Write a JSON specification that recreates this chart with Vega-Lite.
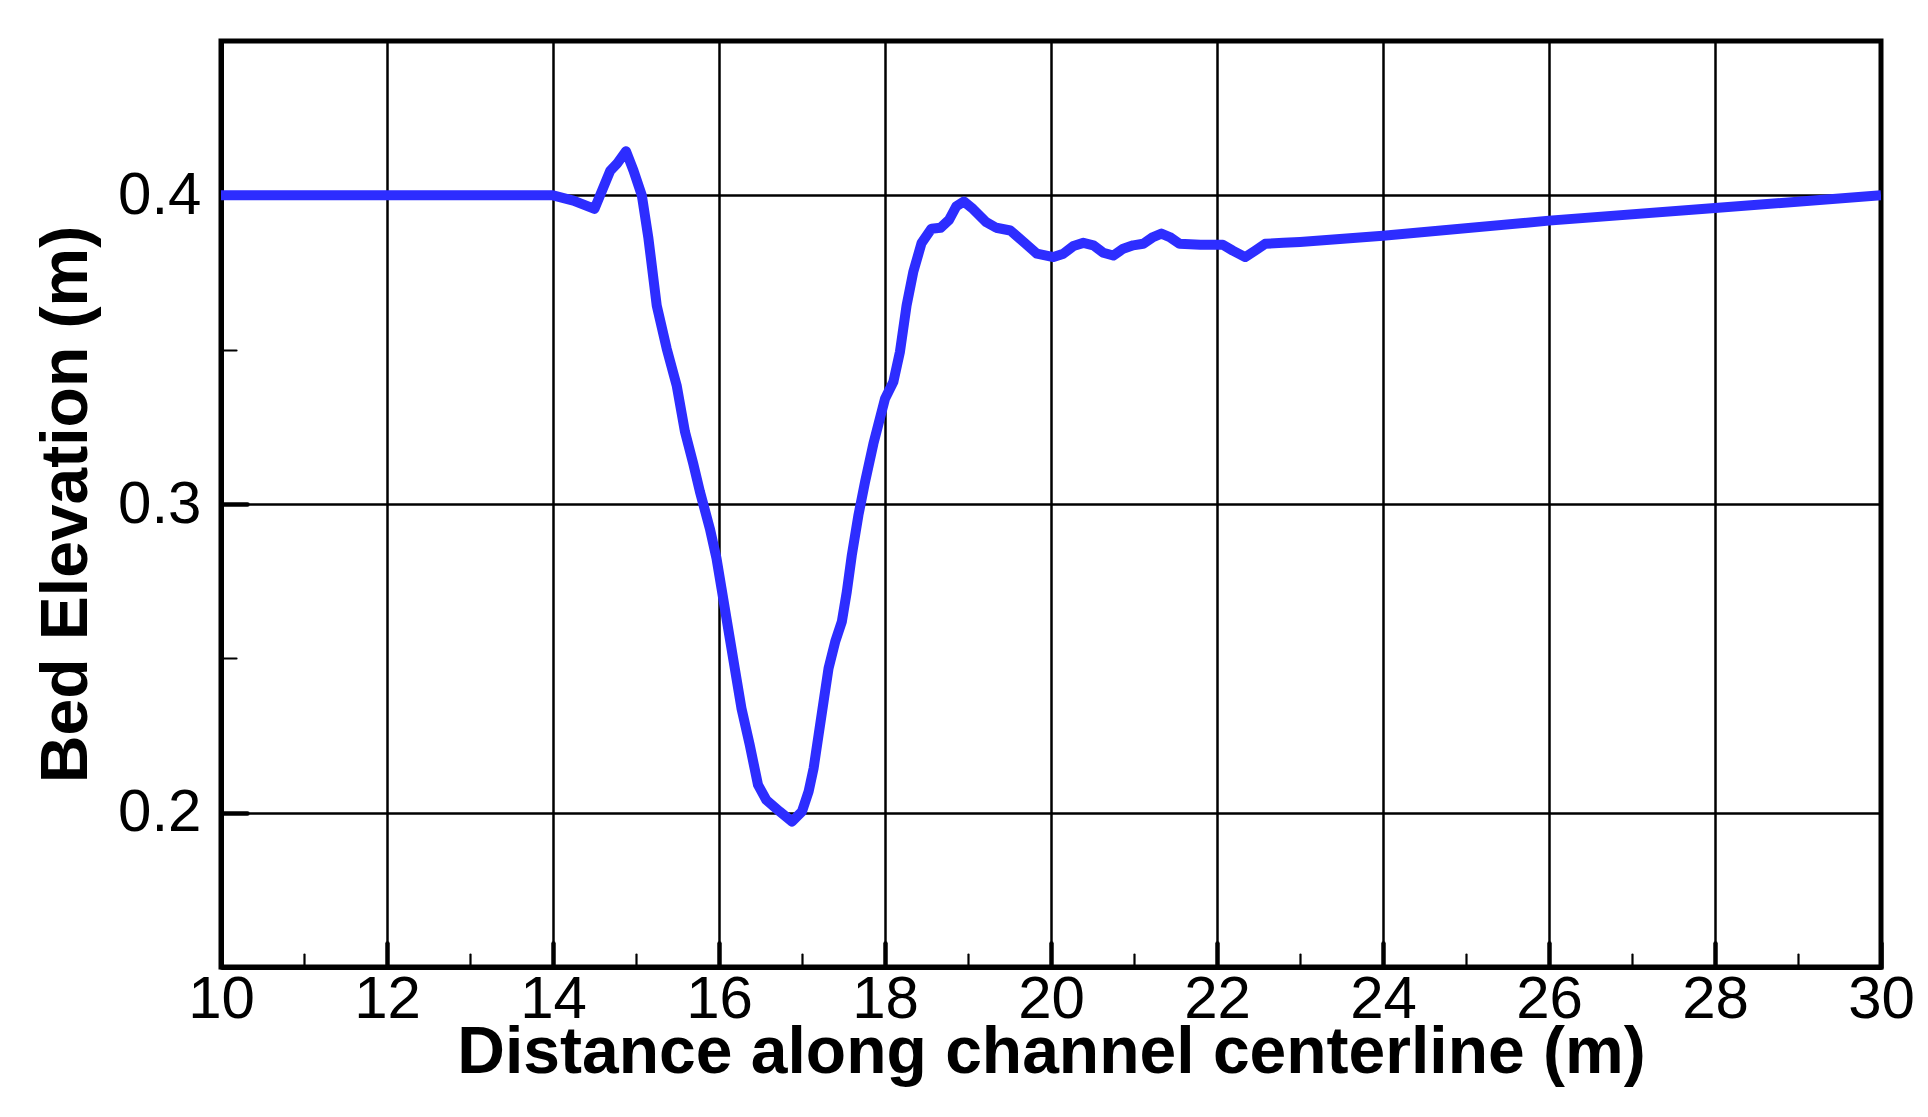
{
  "$schema": "https://vega.github.io/schema/vega-lite/v6.json",
  "width": 1660,
  "height": 926,
  "autosize": "none",
  "padding": {"left": 221, "top": 41, "right": 47, "bottom": 150},
  "background": "white",
  "config": {
    "view": {"stroke": "black", "strokeWidth": 5},
    "axis": {
      "domainColor": "black",
      "domainWidth": 5,
      "tickColor": "black",
      "tickCap": "round",
      "grid": true,
      "gridColor": "black",
      "gridWidth": 2.5,
      "labelFont": "Liberation Sans",
      "labelFontSize": 60,
      "labelColor": "black",
      "labelOverlap": false,
      "labelFlush": false,
      "titleFont": "Liberation Sans",
      "titleFontSize": 66,
      "titleFontWeight": "bold",
      "titleColor": "black"
    }
  },
  "data": {
    "values": [
      {"x": 10, "y": 0.4},
      {"x": 14.0, "y": 0.4},
      {"x": 14.245, "y": 0.3983},
      {"x": 14.5, "y": 0.3956},
      {"x": 14.69, "y": 0.408},
      {"x": 14.77, "y": 0.4102},
      {"x": 14.88, "y": 0.4143},
      {"x": 14.97, "y": 0.408},
      {"x": 15.07, "y": 0.4},
      {"x": 15.15, "y": 0.386},
      {"x": 15.25, "y": 0.3643},
      {"x": 15.37, "y": 0.3503},
      {"x": 15.49, "y": 0.3384},
      {"x": 15.59, "y": 0.3234},
      {"x": 15.69, "y": 0.313},
      {"x": 15.77, "y": 0.304},
      {"x": 15.89, "y": 0.292},
      {"x": 15.97, "y": 0.2824},
      {"x": 16.03, "y": 0.2727},
      {"x": 16.11, "y": 0.2597},
      {"x": 16.19, "y": 0.2468},
      {"x": 16.27, "y": 0.2339},
      {"x": 16.37, "y": 0.222},
      {"x": 16.47, "y": 0.209},
      {"x": 16.57, "y": 0.2041},
      {"x": 16.73, "y": 0.2004},
      {"x": 16.88, "y": 0.1971},
      {"x": 17.0, "y": 0.2004},
      {"x": 17.08, "y": 0.2069},
      {"x": 17.14, "y": 0.2144},
      {"x": 17.2, "y": 0.2252},
      {"x": 17.26, "y": 0.236},
      {"x": 17.32, "y": 0.2468},
      {"x": 17.4, "y": 0.2554},
      {"x": 17.48, "y": 0.2619},
      {"x": 17.54, "y": 0.2716},
      {"x": 17.6, "y": 0.2834},
      {"x": 17.68, "y": 0.2964},
      {"x": 17.76, "y": 0.3072},
      {"x": 17.86, "y": 0.3195},
      {"x": 18.0, "y": 0.3341},
      {"x": 18.1, "y": 0.3395},
      {"x": 18.18, "y": 0.3493},
      {"x": 18.26, "y": 0.3643},
      {"x": 18.34, "y": 0.3751},
      {"x": 18.44, "y": 0.3845},
      {"x": 18.56, "y": 0.3892},
      {"x": 18.67, "y": 0.3895},
      {"x": 18.77, "y": 0.392},
      {"x": 18.86, "y": 0.3965},
      {"x": 18.95, "y": 0.398},
      {"x": 19.06, "y": 0.3956},
      {"x": 19.22, "y": 0.3913},
      {"x": 19.34, "y": 0.3895},
      {"x": 19.51, "y": 0.3886},
      {"x": 19.67, "y": 0.3849},
      {"x": 19.83, "y": 0.3811},
      {"x": 20.03, "y": 0.38},
      {"x": 20.15, "y": 0.3811},
      {"x": 20.27, "y": 0.3836},
      {"x": 20.39, "y": 0.3846},
      {"x": 20.51, "y": 0.3838},
      {"x": 20.63, "y": 0.3814},
      {"x": 20.75, "y": 0.3805},
      {"x": 20.87, "y": 0.3827},
      {"x": 20.99, "y": 0.3838},
      {"x": 21.11, "y": 0.3843},
      {"x": 21.23, "y": 0.3865},
      {"x": 21.33, "y": 0.3876},
      {"x": 21.43, "y": 0.3865},
      {"x": 21.55, "y": 0.3843},
      {"x": 21.8, "y": 0.384},
      {"x": 22.07, "y": 0.384},
      {"x": 22.19, "y": 0.3821},
      {"x": 22.34, "y": 0.38},
      {"x": 22.46, "y": 0.3821},
      {"x": 22.58, "y": 0.3843},
      {"x": 22.8, "y": 0.3846},
      {"x": 23.0, "y": 0.3849},
      {"x": 24.0, "y": 0.3869},
      {"x": 26.0, "y": 0.3918},
      {"x": 28.0, "y": 0.3959},
      {"x": 30.0, "y": 0.4}
    ]
  },
  "mark": {"type": "line", "color": "#2d2dff", "strokeWidth": 10, "strokeJoin": "round", "strokeCap": "butt", "clip": true},
  "encoding": {
    "x": {
      "field": "x",
      "type": "quantitative",
      "scale": {"domain": [10, 30], "nice": false, "zero": false},
      "axis": {
        "title": "Distance along channel centerline (m)",
        "values": [10, 11, 12, 13, 14, 15, 16, 17, 18, 19, 20, 21, 22, 23, 24, 25, 26, 27, 28, 29, 30],
        "labelExpr": "datum.value % 2 === 0 ? datum.label : ''",
        "tickSize": {"condition": {"test": "datum.value % 2 === 0", "value": -24}, "value": -13},
        "tickWidth": {"condition": {"test": "datum.value % 2 === 0", "value": 4.5}, "value": 2.2},
        "gridOpacity": {"condition": {"test": "datum.value % 2 === 0", "value": 1}, "value": 0},
        "labelPadding": 27,
        "titlePadding": -20
      }
    },
    "y": {
      "field": "y",
      "type": "quantitative",
      "scale": {"domain": [0.15, 0.45], "nice": false, "zero": false},
      "axis": {
        "title": "Bed Elevation (m)",
        "values": [0.2, 0.25, 0.3, 0.35, 0.4],
        "format": ".1f",
        "labelExpr": "abs(datum.value * 10 - round(datum.value * 10)) < 0.001 ? datum.label : ''",
        "tickSize": {"condition": {"test": "abs(datum.value * 10 - round(datum.value * 10)) < 0.001", "value": -26}, "value": -15},
        "tickWidth": {"condition": {"test": "abs(datum.value * 10 - round(datum.value * 10)) < 0.001", "value": 4.5}, "value": 2.2},
        "gridOpacity": {"condition": {"test": "abs(datum.value * 10 - round(datum.value * 10)) < 0.001", "value": 1}, "value": 0},
        "labelPadding": 46,
        "titlePadding": 17
      }
    }
  }
}
